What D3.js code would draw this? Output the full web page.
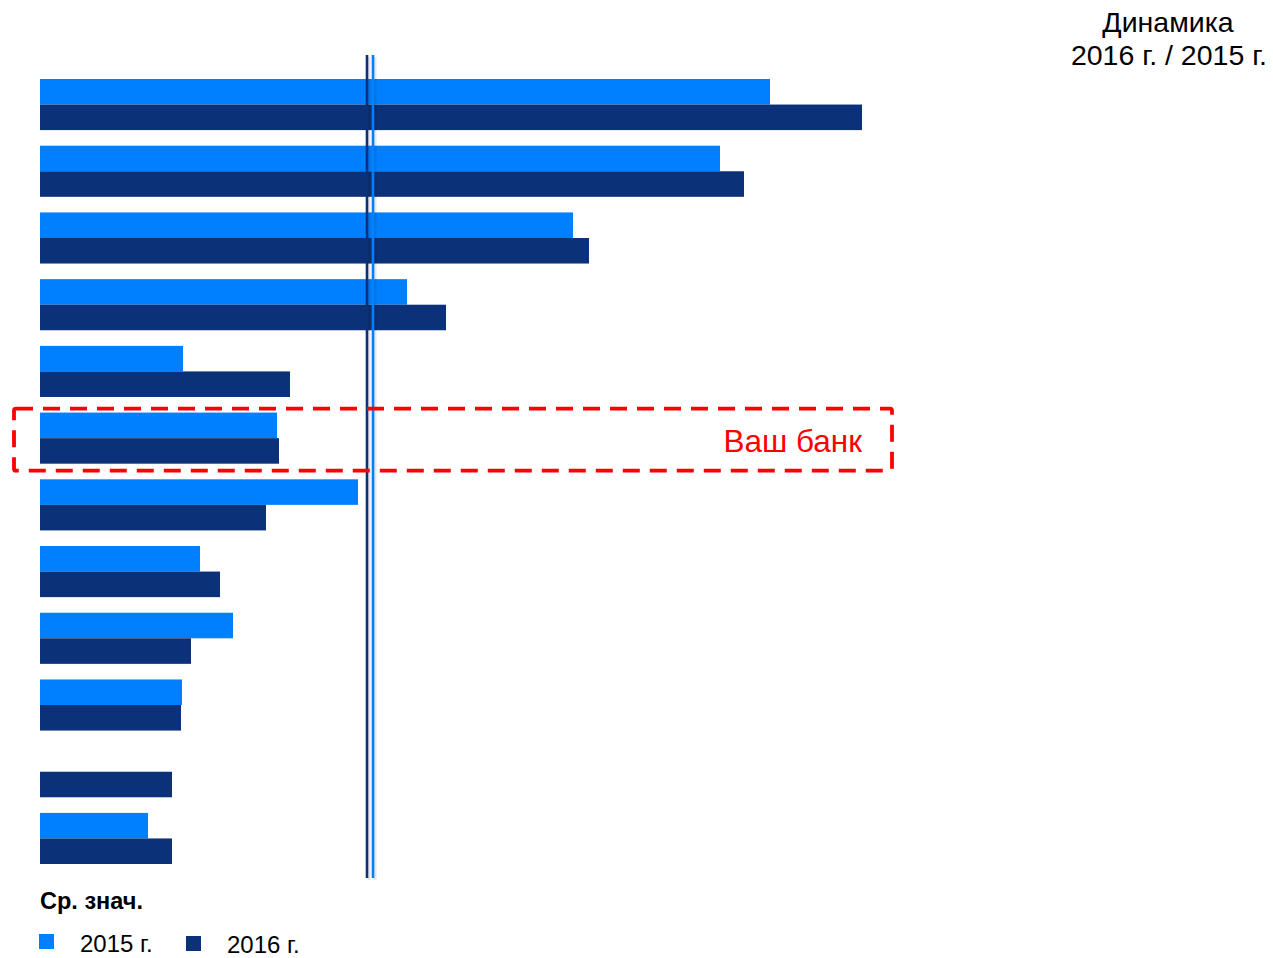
<!DOCTYPE html>
<html><head><meta charset="utf-8">
<script src="https://cdn.jsdelivr.net/npm/d3@7"></script>
<style>body{margin:0;background:#fff;}svg{display:block;font-family:"Liberation Sans",Arial,sans-serif;}</style>
</head><body>
<script>
const categories = ["b1","b2","b3","b4","b5","Ваш банк","b7","b8","b9","b10","b11","b12"];
const values2015 = [73.0, 68.0, 53.3, 36.7, 14.3, 23.7, 31.8, 16.0, 19.3, 14.2, null, 10.8];
const values2016 = [82.2, 70.4, 54.9, 40.6, 25.0, 23.9, 22.6, 18.0, 15.1, 14.1, 13.2, 13.2];
const avg2015 = 33.3;
const avg2016 = 32.7;
const seriesNames = ["2015 г.", "2016 г."];
const highlight = "Ваш банк";

const W = 1273, H = 958;
const colors = ["#0080ff", "#0b3278"];
const svg = d3.select("body").append("svg").attr("width", W).attr("height", H);

const x = d3.scaleLinear().domain([0, 100]).range([40, 1040]);
const y = d3.scaleBand().domain(categories).range([79, 864]).paddingInner(0.234).paddingOuter(0);
const ySub = d3.scaleBand().domain([0, 1]).range([0, y.bandwidth()]);

const rows = categories.map((c, i) => ({c, v: [values2015[i], values2016[i]]}));
const g = svg.append("g");
rows.forEach(r => {
  r.v.forEach((v, k) => {
    if (v == null) return;
    g.append("rect")
      .attr("x", x(0)).attr("y", y(r.c) + ySub(k))
      .attr("width", x(v) - x(0)).attr("height", ySub.bandwidth())
      .attr("fill", colors[k]);
  });
});

// average lines
const lineTop = 55, lineBottom = 878;
[[avg2016, colors[1]], [avg2015, colors[0]]].forEach(([v, col]) => {
  svg.append("line").attr("x1", x(v) + 2).attr("x2", x(v) + 2)
    .attr("y1", lineTop + 2).attr("y2", lineBottom + 2)
    .attr("stroke", "#000").attr("stroke-opacity", 0.1).attr("stroke-width", 3);
  svg.append("line").attr("x1", x(v)).attr("x2", x(v))
    .attr("y1", lineTop).attr("y2", lineBottom)
    .attr("stroke", col).attr("stroke-width", 2.6);
});

// highlight box
const hy = y(highlight);
svg.append("rect")
  .attr("x", 14).attr("y", hy - 4)
  .attr("width", 878).attr("height", y.bandwidth() + 11)
  .attr("rx", 2)
  .attr("fill", "none").attr("stroke", "#ff0000").attr("stroke-width", 3.8)
  .attr("stroke-dasharray", "17,10");
svg.append("text").attr("x", 862).attr("y", hy + 39)
  .attr("text-anchor", "end").attr("font-size", 31.5).attr("fill", "#ff0000")
  .text(highlight);

// title
svg.append("text").attr("x", 1168).attr("y", 32).attr("text-anchor", "middle")
  .attr("font-size", 28.5).attr("fill", "#000").text("Динамика");
svg.append("text").attr("x", 1267).attr("y", 65).attr("text-anchor", "end")
  .attr("font-size", 28.5).attr("fill", "#000").text("2016 г. / 2015 г.");

// legend
svg.append("text").attr("x", 40).attr("y", 909).attr("font-size", 23.5)
  .attr("font-weight", "bold").attr("fill", "#000").text("Ср. знач.");
const leg = [{x: 39, ty: 952, sy: 934}, {x: 186, ty: 953, sy: 936}];
seriesNames.forEach((s, k) => {
  svg.append("rect").attr("x", leg[k].x).attr("y", leg[k].sy).attr("width", 15).attr("height", 15).attr("fill", colors[k]);
  svg.append("text").attr("x", leg[k].x + 41).attr("y", leg[k].ty).attr("font-size", 24).attr("fill", "#000").text(s);
});
</script>
</body></html>
